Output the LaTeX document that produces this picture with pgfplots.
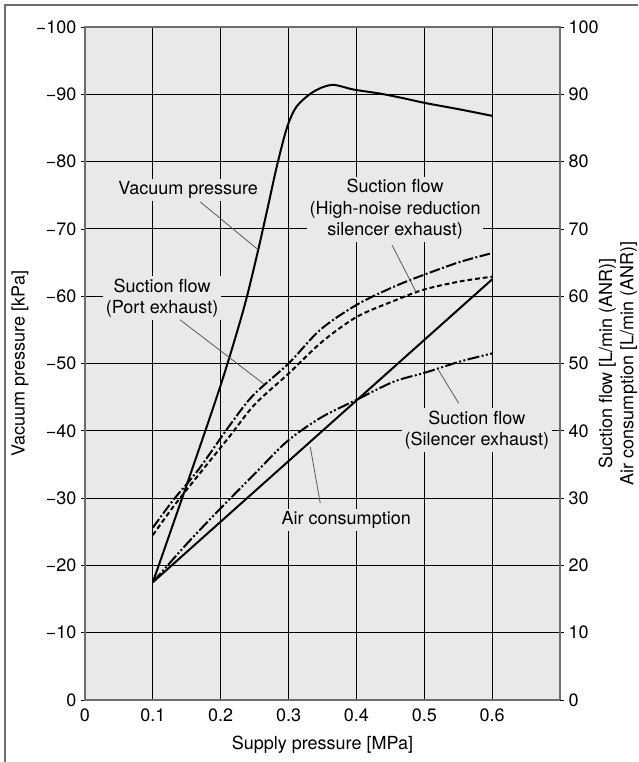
\documentclass[border=0pt]{standalone}
\usepackage{fontspec}
\setmainfont{TeX Gyre Heros}
\usepackage{pgfplots}
\pgfplotsset{compat=1.18}
\definecolor{bgc}{HTML}{E8E9E9}
\definecolor{frm}{HTML}{6E6E6E}
\newcommand{\fs}{\fontsize{13.5pt}{16pt}\selectfont}
\begin{document}
\begin{tikzpicture}
\begin{axis}[
  at={(0,0)}, anchor=south west,
  scale only axis, width=356.25pt, height=504.75pt,
  xmin=0, xmax=0.7, ymin=-100, ymax=0, y dir=reverse,
  axis background/.style={fill=bgc},
  xtick={0,0.1,0.2,0.3,0.4,0.5,0.6},
  xticklabels={0,0.1,0.2,0.3,0.4,0.5,0.6},
  ytick={-100,-90,-80,-70,-60,-50,-40,-30,-20,-10,0},
  yticklabels={−100,−90,−80,−70,−60,−50,−40,−30,−20,−10,0},
  grid=major, major grid style={black, line width=0.6pt},
  axis line style={frm, line width=0.9pt},
  xtick style={draw=none},
  ytick style={black, line width=0.5pt},
  tick align=outside, major tick length=3pt,
  ytick pos=left,
  tick label style={font=\fs},
  label style={font=\fs},
  xlabel={Supply pressure [MPa]},
  ylabel={Vacuum pressure [kPa]},
  xlabel style={at={(axis description cs:0.5,-0.0669)}, anchor=center},
  ylabel style={at={(axis description cs:-0.1368,0.5)}, anchor=center},
]
\addplot[black, line width=1.5pt, smooth, tension=0.5] coordinates {
(0.1,-17.5) (0.15,-32) (0.2,-46.8) (0.2335,-58.0) (0.2532,-66.0) (0.27,-73.5)
(0.2827,-79.3) (0.2975,-85.0) (0.312,-88.2) (0.337,-90.4) (0.364,-91.4)
(0.396,-90.7) (0.435,-90.1) (0.47,-89.4) (0.5015,-88.7) (0.55,-87.8) (0.6,-86.8)};
\end{axis}
\begin{axis}[
  at={(0,0)}, anchor=south west,
  scale only axis, width=356.25pt, height=504.75pt,
  xmin=0, xmax=0.7, ymin=0, ymax=100,
  axis x line=none, axis y line*=right,
  axis line style={frm, line width=0.9pt},
  ytick={0,10,20,30,40,50,60,70,80,90,100},
  yticklabels={0,10,20,30,40,50,60,70,80,90,100},
  ytick style={black, line width=0.5pt},
  tick align=outside, major tick length=3pt,
  tick label style={font=\fs},
  label style={font=\fs},
  ylabel={Suction flow [L/min (ANR)]\\Air consumption [L/min (ANR)]},
  ylabel style={align=center, at={(axis description cs:1.1221,0.5)}, anchor=center},
]
% Air consumption
\addplot[black, line width=1.5pt] coordinates {(0.1,17.5) (0.6,62.5)};
% Suction flow (Port exhaust)
\addplot[black, line width=1.5pt, smooth, dash pattern=on 8pt off 1.8pt on 1.5pt off 1.8pt] coordinates {
(0.1,25.6) (0.13,29.7) (0.167,34.2) (0.2139,40.9) (0.248,45.3) (0.30,50.0)
(0.3466,55.0) (0.40,58.7) (0.455,61.4) (0.50,63.2) (0.553,65.1) (0.60,66.4)};
% Suction flow (High-noise reduction silencer exhaust)
\addplot[black, line width=1.5pt, smooth, dash pattern=on 3.6pt off 2.2pt] coordinates {
(0.1,24.5) (0.13,28.7) (0.167,33.4) (0.211,38.9) (0.25,43.9) (0.30,48.5)
(0.349,53.2) (0.40,56.9) (0.455,59.3) (0.50,61.0) (0.553,62.2) (0.60,62.9)};
% Suction flow (Silencer exhaust)
\addplot[black, line width=1.5pt, smooth, dash pattern=on 9pt off 1.8pt on 1.5pt off 1.8pt on 1.5pt off 1.8pt] coordinates {
(0.1,17.5) (0.15,23.2) (0.2,28.5) (0.25,33.6) (0.2975,38.4) (0.3466,41.9)
(0.40,44.6) (0.455,47.3) (0.50,48.6) (0.553,50.3) (0.60,51.5)};
% annotations
\tikzset{lab/.style={font=\fs, fill=bgc, align=center, inner sep=2pt},
         ldr/.style={draw=black!65, line width=0.6pt}}
\node[lab] at (axis cs:0.152,75.8) {Vacuum pressure};
\draw[ldr] (axis cs:0.170,74.0) -- (axis cs:0.254,67.0);
\node[lab] at (axis cs:0.1136,59.7) {Suction flow\\(Port exhaust)};
\draw[ldr] (axis cs:0.140,56.5) -- (axis cs:0.263,47.0);
\node[lab] at (axis cs:0.457,72.9) {Suction flow\\(High-noise reduction\\silencer exhaust)};
\draw[ldr] (axis cs:0.4524,67.6) -- (axis cs:0.488,60.6);
\node[lab] at (axis cs:0.5774,40.1) {Suction flow\\(Silencer exhaust)};
\draw[ldr] (axis cs:0.521,49.0) -- (axis cs:0.5506,44.1);
\node[lab] at (axis cs:0.385,26.7) {Air consumption};
\draw[ldr] (axis cs:0.332,37.6) -- (axis cs:0.3466,29.3);
\end{axis}
\draw[frm, line width=1pt] (-60pt,-46.5pt) -- (-60pt,521.25pt) -- (414.75pt,521.25pt);
\pgfresetboundingbox
\useasboundingbox (-63.75pt,-46.5pt) rectangle (414.75pt,525pt);
\end{tikzpicture}
\end{document}
